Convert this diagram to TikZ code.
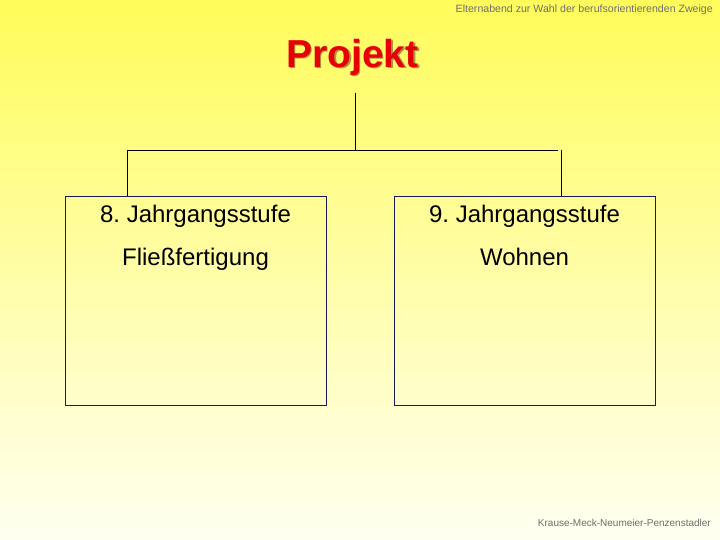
\documentclass[tikz,border=0pt]{standalone}
\usepackage{fontspec}
\setmainfont{Liberation Sans}
\frenchspacing
\begin{document}
\begin{tikzpicture}[x=1pt,y=1pt,
  boxstyle/.style={draw=navyline, line width=0.9pt, minimum width=261pt, minimum height=209pt, inner sep=0pt},
  boxtext/.style={font=\fontsize{24}{28}\selectfont, text=black, anchor=base, inner sep=0pt},
  conn/.style={draw=black, line width=0.8pt}]
\definecolor{bgtop}{RGB}{255,252,90}
\definecolor{bgbot}{RGB}{255,255,242}
\definecolor{navyline}{RGB}{25,25,90}
\definecolor{titlered}{RGB}{230,0,0}
\definecolor{shadowcol}{RGB}{175,150,70}
\definecolor{smallgray}{RGB}{110,110,110}
\useasboundingbox (0,0) rectangle (720,540);
\shade[top color=bgtop, bottom color=bgbot] (0,0) rectangle (720,540);
% header and footer
\node[anchor=base east, inner sep=0pt, text=smallgray, font=\fontsize{10.6}{12}\selectfont] (hdr) at (713,527) {Elternabend zur Wahl der berufsorientierenden Zweige};
\node[anchor=base east, inner sep=0pt, text=smallgray, font=\fontsize{10}{12}\selectfont] (ftr) at (711,13) {Krause-Meck-Neumeier-Penzenstadler};
% title with shadow
\node[anchor=base, inner sep=0pt, text=shadowcol, font=\fontsize{39}{44}\selectfont\bfseries] (shadow) at (354,471) {Projekt};
\node[anchor=base, inner sep=0pt, text=titlered, font=\fontsize{39}{44}\selectfont\bfseries] (title) at (352.5,472.5) {Projekt};
% boxes
\node[boxstyle, anchor=north west] (left) at (65,344) {};
\node[boxstyle, anchor=north west] (right) at (394,344) {};
\node[boxtext] (l1) at (195.5,317) {8. Jahrgangsstufe};
\node[boxtext] (l2) at (195.5,274) {Fließfertigung};
\node[boxtext] (r1) at (524.5,317) {9. Jahrgangsstufe};
\node[boxtext] (r2) at (524.5,274) {Wohnen};
% connectors
\coordinate (top) at (355,447);
\coordinate (mid) at (355,390);
\coordinate (hl) at (127,390);
\coordinate (hr) at (558,390);
\coordinate (rtop) at (561,390);
\coordinate (rbot) at (561,344);
\draw[conn] (top) -- (mid);
\draw[conn] (hl) -- (hr);
\draw[conn] (hl) -- (hl |- left.north);
\draw[conn] (rtop) -- (rbot);
\end{tikzpicture}
\end{document}
